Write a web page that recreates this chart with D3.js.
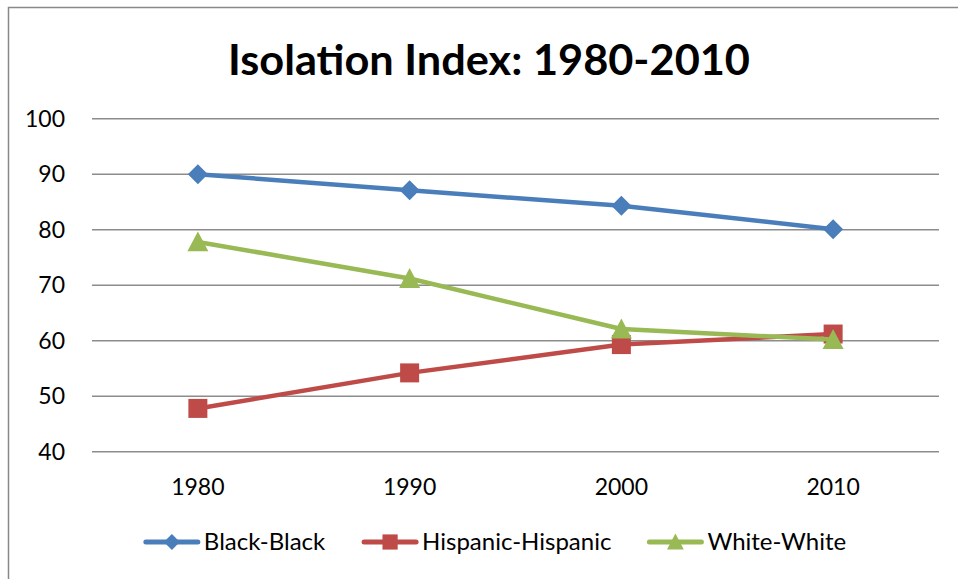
<!DOCTYPE html>
<html>
<head>
<meta charset="utf-8">
<script src="https://cdn.jsdelivr.net/npm/d3@7"></script>
<style>
  body { margin: 0; background: #fff; }
  svg { display: block; font-family: Lato, "Open Sans", sans-serif; }
</style>
</head>
<body>
<svg id="chart" width="958" height="579"></svg>
<script>
const years = ['1980', '1990', '2000', '2010'];
const yTicks = [40, 50, 60, 70, 80, 90, 100];
const blackBlack = [90, 87.1, 84.3, 80.1];
const hispanicHispanic = [47.8, 54.2, 59.3, 61.2];
const whiteWhite = [77.8, 71.2, 62.1, 60.2];

// marker shapes, drawn around 0,0 with half-size r
const diamond = r => `M 0 ${-r} L ${r} 0 L 0 ${r} L ${-r} 0 Z`;
const square = r => `M ${-r} ${-r} H ${r} V ${r} H ${-r} Z`;
const triangle = r => `M 0 ${-r} L ${r} ${r * 0.9} L ${-r} ${r * 0.9} Z`;

const series = [
  { name: 'Black-Black', values: blackBlack, color: '#4a7ebb', shape: diamond, r: 10 },
  { name: 'Hispanic-Hispanic', values: hispanicHispanic, color: '#be4b48', shape: square, r: 9.5 },
  { name: 'White-White', values: whiteWhite, color: '#98b954', shape: triangle, r: 10.5 }
];

const svg = d3.select('#chart');

// chart frame
svg.append('path')
  .attr('d', 'M 8.5 579 L 8.5 7.5 L 958 7.5')
  .attr('fill', 'none')
  .attr('stroke', '#898989')
  .attr('stroke-width', 1.5);

svg.append('text')
  .attr('x', 489)
  .attr('y', 75)
  .attr('text-anchor', 'middle')
  .attr('font-weight', 'bold')
  .attr('font-size', 42)
  .attr('textLength', 522)
  .attr('lengthAdjust', 'spacingAndGlyphs')
  .text('Isolation Index: 1980-2010');

const x = d3.scalePoint().domain(years).range([92, 939]).padding(0.5);
const y = d3.scaleLinear().domain([40, 100]).range([451.7, 118.7]);

// gridlines
svg.append('g')
  .selectAll('line')
  .data(yTicks)
  .join('line')
  .attr('x1', 92)
  .attr('x2', 939)
  .attr('y1', d => y(d))
  .attr('y2', d => y(d))
  .attr('stroke', '#8c8c8c')
  .attr('stroke-width', 1.5);

// y axis labels
svg.append('g')
  .selectAll('text')
  .data(yTicks)
  .join('text')
  .attr('x', 65)
  .attr('y', d => y(d))
  .attr('dy', '0.35em')
  .attr('text-anchor', 'end')
  .attr('font-size', 23)
  .text(d => d);

// x axis labels
svg.append('g')
  .selectAll('text')
  .data(years)
  .join('text')
  .attr('x', d => x(d))
  .attr('y', 495)
  .attr('text-anchor', 'middle')
  .attr('font-size', 23)
  .text(d => d);

const line = d3.line()
  .x((d, i) => x(years[i]))
  .y(d => y(d));

const groups = svg.append('g')
  .selectAll('g')
  .data(series)
  .join('g');

groups.append('path')
  .attr('d', d => line(d.values))
  .attr('fill', 'none')
  .attr('stroke', d => d.color)
  .attr('stroke-width', 4.5)
  .attr('stroke-linejoin', 'round');

groups.selectAll('path.mk')
  .data(d => d.values.map((v, i) => ({ v, i, s: d })))
  .join('path')
  .attr('class', 'mk')
  .attr('transform', d => `translate(${x(years[d.i])},${y(d.v)})`)
  .attr('d', d => d.s.shape(d.s.r))
  .attr('fill', d => d.s.color);

// legend
const legend = svg.append('g');
const items = legend.selectAll('g')
  .data(series)
  .join('g');

items.append('line')
  .attr('x1', 2).attr('x2', 54)
  .attr('y1', 0).attr('y2', 0)
  .attr('stroke', d => d.color)
  .attr('stroke-width', 5)
  .attr('stroke-linecap', 'round');

items.append('path')
  .attr('transform', 'translate(28,0)')
  .attr('d', d => d.shape(d.r * 0.8))
  .attr('fill', d => d.color);

items.append('text')
  .attr('x', 60)
  .attr('dy', '0.35em')
  .attr('font-size', 24)
  .text(d => d.name);

const widths = [];
items.each(function () { widths.push(this.getBBox().width); });
const gap = 38;
const total = d3.sum(widths) + gap * (widths.length - 1);
let cx = 494 - total / 2;
items.attr('transform', (d, i) => {
  const t = `translate(${cx},542)`;
  cx += widths[i] + gap;
  return t;
});
</script>
</body>
</html>
